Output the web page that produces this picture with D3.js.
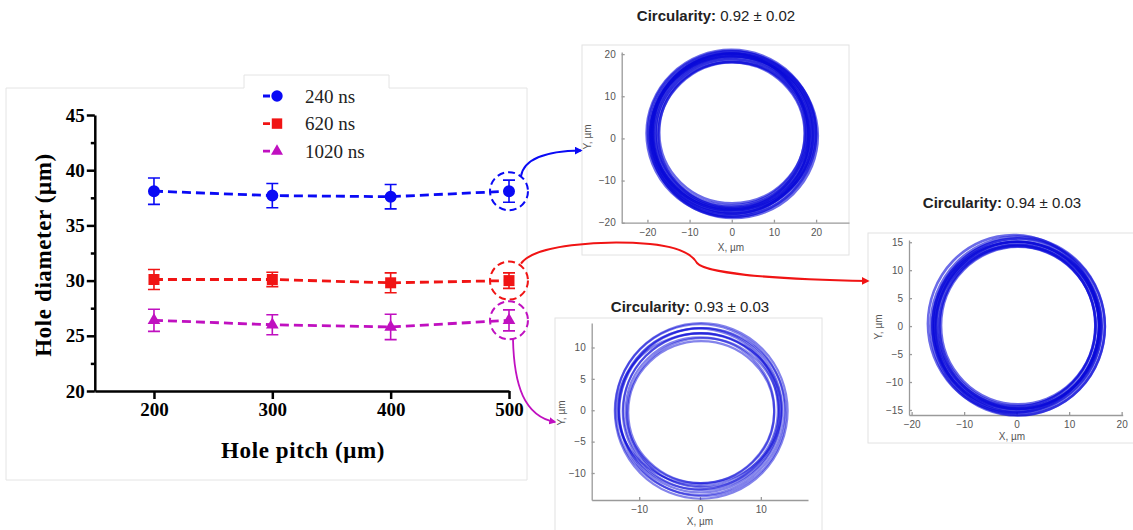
<!DOCTYPE html>
<meta charset="utf-8" />
<script src="https://d3js.org/d3.v7.min.js"></script>
<style>
  body { margin: 0; background: #fff; }
</style>
<svg width="1133" height="530" id="fig"></svg>
<script>
  // ---- main chart data ----
  var pitch = [200, 300, 400, 500];
  var d240 = [38.1, 37.7, 37.6, 38.1];
  var e240 = [1.2, 1.1, 1.1, 1.0];
  var d620 = [30.1, 30.1, 29.8, 30.0];
  var e620 = [0.9, 0.65, 0.9, 0.7];
  var d1020 = [26.4, 26.0, 25.8, 26.4];
  var e1020 = [1.0, 0.9, 1.15, 0.95];
  var seriesNames = ["240 ns", "620 ns", "1020 ns"];
  var yTicks = [20, 25, 30, 35, 40, 45];
  var yMinor = [22.5, 27.5, 32.5, 37.5, 42.5];
  var xTicks = [200, 300, 400, 500];

  // ---- inset data: ring traces as [cx, cy, rx, ry] in µm ----
  var ring240 = [
    [-0.1, 1.2, 20.1, 19.8], [0.2, 1.0, 19.8, 19.6], [-0.3, 1.4, 19.6, 19.3],
    [0.1, 1.1, 19.3, 19.0], [-0.2, 1.3, 19.1, 18.8], [0.3, 0.9, 18.9, 18.6],
    [0.0, 1.2, 18.7, 18.3], [-0.4, 1.5, 18.5, 18.0], [0.2, 1.0, 18.3, 17.8],
    [-0.1, 1.3, 18.0, 17.5], [0.4, 0.8, 17.8, 17.3], [-0.2, 1.1, 17.5, 17.0],
    [0.1, 1.4, 17.3, 16.8], [0.5, 0.6, 19.9, 19.5], [-0.5, 1.6, 18.2, 18.6],
    [0.3, 1.2, 19.5, 18.2], [-0.3, 0.9, 18.6, 19.2]
  ];
  var ring620 = [
    [0.2, 0.0, 16.6, 16.0], [0.4, -0.1, 16.4, 15.8], [-0.6, 0.4, 16.3, 15.9],
    [0.1, 0.1, 16.1, 15.5], [0.3, -0.2, 15.9, 15.3], [0.0, 0.0, 15.7, 15.1],
    [0.2, 0.2, 15.5, 14.9], [0.5, -0.1, 15.3, 14.7], [-0.1, 0.1, 15.1, 14.5],
    [0.2, 0.0, 14.9, 14.3], [0.3, 0.1, 14.7, 14.1], [0.1, -0.2, 15.6, 14.6],
    [0.0, 0.1, 16.0, 15.0]
  ];
  var ring1020 = [
    [0.2, -0.1, 14.2, 14.0], [0.0, 0.1, 13.9, 13.6], [0.4, -0.3, 13.7, 13.4],
    [0.1, 0.0, 13.4, 13.1], [-0.2, 0.2, 13.2, 12.8], [0.3, -0.2, 13.0, 12.5],
    [0.1, 0.1, 12.7, 12.2], [0.5, -0.4, 12.5, 11.9], [0.0, 0.0, 12.2, 11.6],
    [0.2, -0.3, 12.0, 11.3], [-0.1, 0.2, 13.5, 12.0]
  ];

  var blue = "#0a0af5", red = "#f01414", mag = "#c010c0";
  var serif = "'Liberation Serif', 'Times New Roman', serif";
  var sans = "'Liberation Sans', Arial, sans-serif";

  var svg = d3.select("#fig");

  // faint panel frame around the main chart
  svg.append("path")
    .attr("d", "M6,88 H244 V75 H389 V88 H527 V480 H6 Z")
    .attr("fill", "none").attr("stroke", "#e4e4e4").attr("stroke-width", 1);

  var x = d3.scaleLinear().domain([150, 500]).range([94.8, 509]);
  var y = d3.scaleLinear().domain([20, 45]).range([391, 115]);

  // axes
  var gy = svg.append("g").attr("transform", "translate(94.8,0)")
    .call(d3.axisLeft(y).tickValues(yTicks).tickSize(8).tickSizeOuter(0).tickPadding(2));
  svg.append("g").attr("transform", "translate(94.8,0)")
    .call(d3.axisLeft(y).tickValues(yMinor).tickSize(4).tickFormat(""))
    .call(function (g) { g.select(".domain").remove(); });
  var gx = svg.append("g").attr("transform", "translate(0,391)")
    .call(d3.axisBottom(x).tickValues(xTicks).tickSize(8).tickSizeOuter(0).tickPadding(4));
  svg.selectAll(".domain, .tick line").attr("stroke", "#000").attr("stroke-width", 2.5);
  [gx, gy].forEach(function (g) {
    g.selectAll("text").attr("font-family", serif).attr("font-weight", "bold")
      .attr("font-size", 19).attr("fill", "#000");
  });

  // axis titles
  svg.append("text")
    .attr("x", 303).attr("y", 458)
    .attr("text-anchor", "middle")
    .attr("font-family", serif).attr("font-weight", "bold").attr("font-size", 23)
    .attr("letter-spacing", 0.6)
    .text("Hole pitch (\u03bcm)");
  svg.append("text")
    .attr("text-anchor", "middle")
    .attr("transform", "translate(51,255)rotate(-90)")
    .attr("font-family", serif).attr("font-weight", "bold").attr("font-size", 23)
    .attr("letter-spacing", 0.6)
    .text("Hole diameter (\u03bcm)");

  // series
  var series = [
    { vals: d240, errs: e240, color: blue, sym: d3.symbolCircle, size: 113 },
    { vals: d620, errs: e620, color: red, sym: d3.symbolSquare, size: 121 },
    { vals: d1020, errs: e1020, color: mag, sym: d3.symbolTriangle, size: 70 }
  ];

  var line = d3.line().x(function (d) { return x(d[0]); }).y(function (d) { return y(d[1]); });

  series.forEach(function (s) {
    var pts = pitch.map(function (p, i) { return [p, s.vals[i], s.errs[i]]; });
    var g = svg.append("g");
    g.append("path").attr("d", line(pts))
      .attr("fill", "none").attr("stroke", s.color).attr("stroke-width", 2.8)
      .attr("stroke-dasharray", "9,5");
    // error bars
    pts.forEach(function (d) {
      var cx = x(d[0]), top = y(d[1] + d[2]), bot = y(d[1] - d[2]);
      g.append("path")
        .attr("d", "M" + cx + "," + top + "V" + bot +
          "M" + (cx - 6) + "," + top + "H" + (cx + 6) +
          "M" + (cx - 6) + "," + bot + "H" + (cx + 6))
        .attr("fill", "none").attr("stroke", s.color).attr("stroke-width", 1.6);
    });
    g.selectAll("path.pt").data(pts).enter().append("path")
      .attr("class", "pt")
      .attr("d", d3.symbol().type(s.sym).size(s.size))
      .attr("transform", function (d) { return "translate(" + x(d[0]) + "," + y(d[1]) + ")"; })
      .attr("fill", s.color);
    // dashed ring round the 500 µm point
    g.append("circle")
      .attr("cx", x(500)).attr("cy", y(s.vals[3]))
      .attr("r", 19)
      .attr("fill", "none").attr("stroke", s.color).attr("stroke-width", 2)
      .attr("stroke-dasharray", "7,4");
  });

  // legend
  series.forEach(function (s, i) {
    var ly = 96 + i * 27.6;
    svg.append("line").attr("x1", 263).attr("x2", 291).attr("y1", ly).attr("y2", ly)
      .attr("stroke", s.color).attr("stroke-width", 2.8).attr("stroke-dasharray", "7,6,2,20");
    svg.append("path").attr("d", d3.symbol().type(s.sym).size(s.size * 0.9))
      .attr("transform", "translate(277," + ly + ")").attr("fill", s.color);
    svg.append("text").attr("x", 305).attr("y", ly + 6.5)
      .attr("font-family", serif).attr("font-size", 19).attr("fill", "#222")
      .text(seriesNames[i]);
  });

  // ---- inset ring plots ----
  function inset(o) {
    var g = svg.append("g");
    g.append("rect").attr("x", o.panel[0]).attr("y", o.panel[1])
      .attr("width", o.panel[2]).attr("height", o.panel[3])
      .attr("fill", "#fff").attr("stroke", "#e2e2e2");

    var sx = d3.scaleLinear().domain(o.xDom).range(o.xRange);
    var sy = d3.scaleLinear().domain(o.yDom).range(o.yRange);

    var ax = g.append("g").attr("transform", "translate(0," + o.yRange[0] + ")")
      .call(d3.axisBottom(sx).tickValues(o.xTicks).tickSize(-3).tickSizeOuter(0).tickPadding(6)
        .tickFormat(d3.format("d")));
    var ay = g.append("g").attr("transform", "translate(" + o.xRange[0] + ",0)")
      .call(d3.axisLeft(sy).tickValues(o.yTicks).tickSize(-3).tickSizeOuter(0).tickPadding(6)
        .tickFormat(d3.format("d")));
    [ax, ay].forEach(function (a) {
      a.selectAll(".domain, .tick line").attr("stroke", "#9a9a9a").attr("stroke-width", 1.3);
      a.selectAll("text").attr("font-family", sans).attr("font-size", 10).attr("fill", "#555");
    });
    // minus signs like the source
    g.selectAll(".tick text").text(function (d) { return d < 0 ? "\u2212" + (-d) : d; });

    g.selectAll("ellipse").data(o.ring).enter().append("ellipse")
      .attr("cx", function (d) { return sx(d[0]); })
      .attr("cy", function (d) { return sy(d[1]); })
      .attr("rx", function (d) { return sx(d[2]) - sx(0); })
      .attr("ry", function (d) { return sy(0) - sy(d[3]); })
      .attr("fill", "none").attr("stroke", "#0808d8")
      .attr("stroke-width", o.sw).attr("stroke-opacity", o.op);

    g.append("text").attr("x", o.xt[0]).attr("y", o.xt[1]).attr("text-anchor", "middle")
      .attr("font-family", sans).attr("font-size", 10).attr("fill", "#555").text("X, \u00b5m");
    g.append("text").attr("text-anchor", "middle")
      .attr("transform", "translate(" + o.yt[0] + "," + o.yt[1] + ")rotate(-90)")
      .attr("font-family", sans).attr("font-size", 10).attr("fill", "#555").text("Y, \u00b5m");

    var t = g.append("text").attr("x", o.title[0]).attr("y", o.title[1])
      .attr("text-anchor", "middle").attr("font-family", sans).attr("font-size", 15)
      .attr("fill", "#222");
    t.append("tspan").attr("font-weight", "bold").text("Circularity:");
    t.append("tspan").text(" " + o.circ);
  }

  inset({
    panel: [582, 45, 267, 210],
    xDom: [-26.1, 27.8], xRange: [621.7, 849],
    yDom: [-20, 20.5], yRange: [222.7, 52],
    xTicks: [-20, -10, 0, 10, 20], yTicks: [-20, -10, 0, 10, 20],
    ring: ring240, sw: 2.6, op: 0.6,
    xt: [731, 251], yt: [591, 137],
    title: [716, 21], circ: "0.92 \u00b1 0.02"
  });
  inset({
    panel: [868, 233, 266, 210],
    xDom: [-20.5, 20.2], xRange: [909, 1122.7],
    yDom: [-15.9, 15.4], yRange: [415, 240],
    xTicks: [-20, -10, 0, 10, 20], yTicks: [-15, -10, -5, 0, 5, 10, 15],
    ring: ring620, sw: 2.6, op: 0.6,
    xt: [1012, 440], yt: [882, 327],
    title: [1002, 208], circ: "0.94 \u00b1 0.03"
  });
  inset({
    panel: [555, 318, 267, 213],
    xDom: [-17.8, 17.75], xRange: [591.7, 808],
    yDom: [-14.3, 13.9], yRange: [500, 323],
    xTicks: [-10, 0, 10], yTicks: [-10, -5, 0, 5, 10],
    ring: ring1020, sw: 2.2, op: 0.5,
    xt: [700, 525], yt: [565, 413],
    title: [690, 312], circ: "0.93 \u00b1 0.03"
  });

  // arrow heads
  var defs = svg.append("defs");
  [["ab", blue], ["ar", red], ["am", mag]].forEach(function (a) {
    defs.append("marker").attr("id", a[0])
      .attr("viewBox", "0 0 10 10").attr("refX", 8).attr("refY", 5)
      .attr("markerWidth", 4).attr("markerHeight", 4).attr("orient", "auto")
      .attr("markerUnits", "strokeWidth")
      .append("path").attr("d", "M0,0 L10,5 L0,10 z").attr("fill", a[1]);
  });

  // connectors from the 500 µm points to the insets (drawn on top)
  var x5 = x(500);
  svg.append("path")
    .attr("d", "M" + (x5 + 12) + "," + (y(d240[3]) - 15) + " C524,158 548,151 581,150.5")
    .attr("fill", "none").attr("stroke", blue).attr("stroke-width", 2).attr("marker-end", "url(#ab)");
  svg.append("path")
    .attr("d", "M" + (x5 + 12) + "," + (y(d620[3]) - 17) +
      " C534,245 600,240 650,244 C680,247 692,254 697,263 C705,272 760,279 868,281")
    .attr("fill", "none").attr("stroke", red).attr("stroke-width", 2).attr("marker-end", "url(#ar)");
  svg.append("path")
    .attr("d", "M" + (x5 + 4) + "," + (y(d1020[3]) + 19) + " C514,385 524,416 555,422")
    .attr("fill", "none").attr("stroke", mag).attr("stroke-width", 1.8).attr("marker-end", "url(#am)");
</script>
